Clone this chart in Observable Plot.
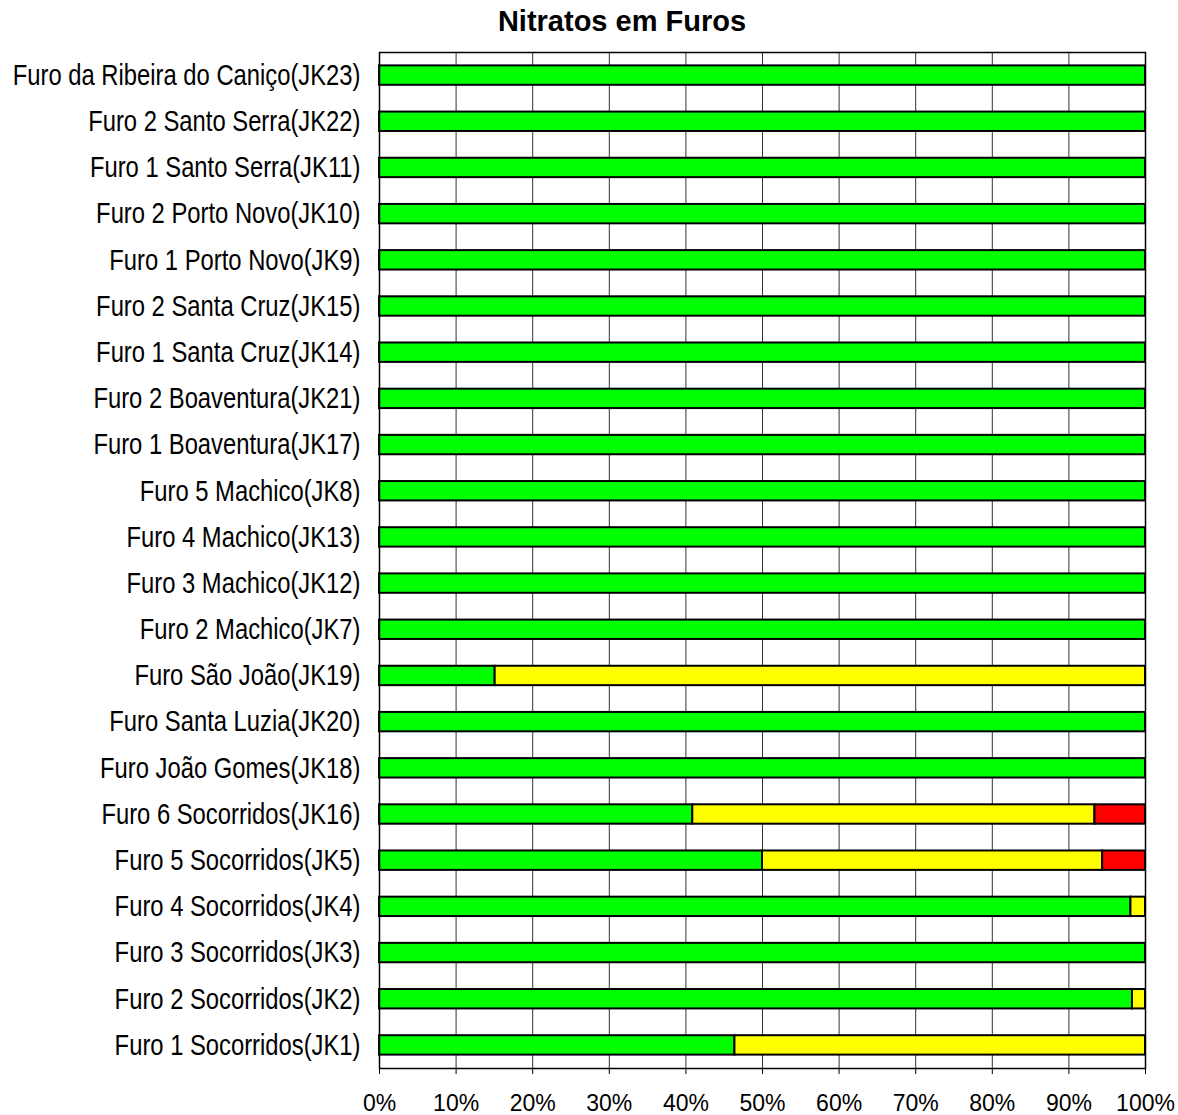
<!DOCTYPE html>
<html>
<head>
<meta charset="utf-8">
<script src="https://cdn.jsdelivr.net/npm/d3@7"></script>
<script src="https://cdn.jsdelivr.net/npm/@observablehq/plot@0.6"></script>
<style>
  body { margin: 0; background: #fff; font-family: "Liberation Sans", Arial, sans-serif; }
  #wrap { position: relative; width: 1178px; height: 1115px; }
  #title { position: absolute; top: 5px; left: 622px; transform: translateX(-50%); font-weight: bold; font-size: 29px; line-height: 33px; white-space: nowrap; color: #000; font-family: "Liberation Sans", Arial, sans-serif; }
  #chart { position: absolute; top: 45px; left: 0; }
</style>
</head>
<body>
<div id="wrap">
  <div id="title">Nitratos em Furos</div>
  <div id="chart"></div>
</div>
<script>
const stations = [
  "Furo da Ribeira do Caniço(JK23)",
  "Furo 2 Santo Serra(JK22)",
  "Furo 1 Santo Serra(JK11)",
  "Furo 2 Porto Novo(JK10)",
  "Furo 1 Porto Novo(JK9)",
  "Furo 2 Santa Cruz(JK15)",
  "Furo 1 Santa Cruz(JK14)",
  "Furo 2 Boaventura(JK21)",
  "Furo 1 Boaventura(JK17)",
  "Furo 5 Machico(JK8)",
  "Furo 4 Machico(JK13)",
  "Furo 3 Machico(JK12)",
  "Furo 2 Machico(JK7)",
  "Furo São João(JK19)",
  "Furo Santa Luzia(JK20)",
  "Furo João Gomes(JK18)",
  "Furo 6 Socorridos(JK16)",
  "Furo 5 Socorridos(JK5)",
  "Furo 4 Socorridos(JK4)",
  "Furo 3 Socorridos(JK3)",
  "Furo 2 Socorridos(JK2)",
  "Furo 1 Socorridos(JK1)"
];
const green  = [100,100,100,100,100,100,100,100,100,100,100,100,100,15.1,100,100,40.9,50.0,98.1,100,98.3,46.4];
const yellow = [0,0,0,0,0,0,0,0,0,0,0,0,0,84.9,0,0,52.5,44.4,1.9,0,1.7,53.6];
const red    = [0,0,0,0,0,0,0,0,0,0,0,0,0,0,0,0,6.6,5.6,0,0,0,0];
const seriesNames = ["verde", "amarelo", "vermelho"];
const seriesColors = ["#00ff00", "#ffff00", "#ff0000"];
const xTicks = [0,10,20,30,40,50,60,70,80,90,100];

const rows = [];
stations.forEach((s, i) => {
  [green, yellow, red].forEach((arr, k) => {
    if (arr[i] > 0) rows.push({station: s, series: seriesNames[k], value: arr[i], order: k});
  });
});

const chart = Plot.plot({
  width: 1178,
  height: 1070,
  marginLeft: 379,
  marginRight: 33,
  marginTop: 7,
  marginBottom: 47,
  style: {fontFamily: "'Liberation Sans', Arial, sans-serif", fontSize: "23px", color: "#000", background: "#fff"},
  x: {domain: [0, 100], ticks: xTicks, tickFormat: d => d + "%", label: null},
  y: {domain: stations, label: null, paddingInner: 0.58, paddingOuter: 0.29, round: false},
  color: {domain: seriesNames, range: seriesColors},
  marks: [
    Plot.ruleX(xTicks, {stroke: "#333", strokeWidth: 1}),
    Plot.barX(rows, Plot.stackX({
      x: "value", y: "station", fill: "series", order: "order",
      stroke: "#000", strokeWidth: 2
    })),
    Plot.frame({stroke: "#000", strokeWidth: 1.5}),
    Plot.axisX({ticks: xTicks, tickFormat: d => d + "%", tickSize: 6, tickPadding: 20, fontSize: 23, label: null}),
    Plot.axisY({tickSize: 0, tickPadding: 19, fontSize: 23.8, label: null})
  ]
});
// Reference labels are drawn vertically stretched: stretch the y tick labels a little
chart.querySelectorAll('g[aria-label="y-axis tick label"] text').forEach(t => {
  const tr = t.getAttribute("transform") || "";
  t.setAttribute("transform", tr + " scale(1,1.22)");
});
document.getElementById("chart").appendChild(chart);
</script>
</body>
</html>
